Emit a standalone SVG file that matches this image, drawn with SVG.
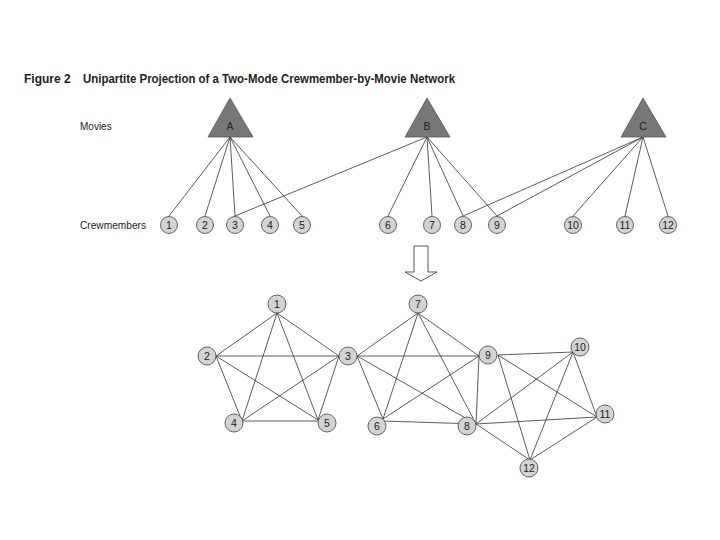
<svg xmlns="http://www.w3.org/2000/svg" width="720" height="540" viewBox="0 0 720 540">
<style>
text{font-family:"Liberation Sans",Arial,sans-serif;fill:#222}
.title{font-size:12px;font-weight:bold}
.lab{font-size:10px}
.nl{font-size:10.5px;text-anchor:middle;dominant-baseline:central}
.tri{fill:#777;stroke:#555;stroke-width:0.8}
.c{fill:#d3d3d3;stroke:#555;stroke-width:0.9}
.e line{stroke:#333;stroke-width:0.8}
</style>
<rect width="720" height="540" fill="#fff"/>
<text class="title" x="24" y="83">Figure 2</text>
<text class="title" x="83" y="83" textLength="372" lengthAdjust="spacingAndGlyphs">Unipartite Projection of a Two-Mode Crewmember-by-Movie Network</text>
<text class="lab" x="80" y="130">Movies</text>
<text class="lab" x="80" y="229" textLength="66" lengthAdjust="spacingAndGlyphs">Crewmembers</text>

<g id="connectors" class="e">
<line x1="230" y1="137" x2="169" y2="216"/>
<line x1="230" y1="137" x2="205" y2="216"/>
<line x1="230" y1="137" x2="235" y2="216"/>
<line x1="230" y1="137" x2="270" y2="216"/>
<line x1="230" y1="137" x2="302" y2="216"/>
<line x1="427" y1="137" x2="235" y2="216"/>
<line x1="427" y1="137" x2="388" y2="216"/>
<line x1="427" y1="137" x2="432" y2="216"/>
<line x1="427" y1="137" x2="463" y2="216"/>
<line x1="427" y1="137" x2="497" y2="216"/>
<line x1="643" y1="137" x2="463" y2="216"/>
<line x1="643" y1="137" x2="497" y2="216"/>
<line x1="643" y1="137" x2="573" y2="216"/>
<line x1="643" y1="137" x2="625" y2="216"/>
<line x1="643" y1="137" x2="668" y2="216"/>

<line x1="277" y1="313" x2="216" y2="356"/>
<line x1="277" y1="313" x2="339" y2="356"/>
<line x1="277" y1="313" x2="242" y2="421"/>
<line x1="277" y1="313" x2="318" y2="420"/>
<line x1="216" y1="356" x2="339" y2="356"/>
<line x1="216" y1="356" x2="242" y2="421"/>
<line x1="216" y1="356" x2="318" y2="420"/>
<line x1="339" y1="356" x2="242" y2="421"/>
<line x1="339" y1="356" x2="318" y2="420"/>
<line x1="242" y1="421" x2="318" y2="421"/>

<line x1="418" y1="313" x2="357" y2="356"/>
<line x1="418" y1="313" x2="383" y2="419"/>
<line x1="418" y1="313" x2="476" y2="424"/>
<line x1="418" y1="313" x2="479" y2="356"/>
<line x1="357" y1="356" x2="479" y2="356"/>
<line x1="357" y1="356" x2="383" y2="419"/>
<line x1="357" y1="356" x2="476" y2="424"/>
<line x1="383" y1="419" x2="479" y2="356"/>
<line x1="383" y1="421" x2="476" y2="424"/>
<line x1="479" y1="356" x2="476" y2="424"/>

<line x1="498" y1="355" x2="573" y2="352"/>
<line x1="498" y1="355" x2="597" y2="417"/>
<line x1="498" y1="355" x2="530" y2="460"/>
<line x1="476" y1="424" x2="573" y2="352"/>
<line x1="476" y1="424" x2="597" y2="417"/>
<line x1="476" y1="424" x2="530" y2="460"/>
<line x1="573" y1="352" x2="597" y2="417"/>
<line x1="573" y1="352" x2="530" y2="460"/>
<line x1="597" y1="417" x2="530" y2="460"/>
</g>

<g id="movieA"><polygon class="tri" points="230,98 208,137 253,137"/><text class="nl" x="230" y="126">A</text></g>
<g id="movieB"><polygon class="tri" points="427,98 405,137 450,137"/><text class="nl" x="427" y="126">B</text></g>
<g id="movieC"><polygon class="tri" points="643,98 621,137 666,137"/><text class="nl" x="643" y="126">C</text></g>

<g id="crew1"><circle class="c" cx="169" cy="225" r="8.5"/><text class="nl" x="169" y="225">1</text></g>
<g id="crew2"><circle class="c" cx="205" cy="225" r="8.5"/><text class="nl" x="205" y="225">2</text></g>
<g id="crew3"><circle class="c" cx="235" cy="225" r="8.5"/><text class="nl" x="235" y="225">3</text></g>
<g id="crew4"><circle class="c" cx="270" cy="225" r="8.5"/><text class="nl" x="270" y="225">4</text></g>
<g id="crew5"><circle class="c" cx="302" cy="225" r="8.5"/><text class="nl" x="302" y="225">5</text></g>
<g id="crew6"><circle class="c" cx="388" cy="225" r="8.5"/><text class="nl" x="388" y="225">6</text></g>
<g id="crew7"><circle class="c" cx="432" cy="225" r="8.5"/><text class="nl" x="432" y="225">7</text></g>
<g id="crew8"><circle class="c" cx="463" cy="225" r="8.5"/><text class="nl" x="463" y="225">8</text></g>
<g id="crew9"><circle class="c" cx="497" cy="225" r="8.5"/><text class="nl" x="497" y="225">9</text></g>
<g id="crew10"><circle class="c" cx="573" cy="225" r="8.5"/><text class="nl" x="573" y="225">10</text></g>
<g id="crew11"><circle class="c" cx="625" cy="225" r="8.5"/><text class="nl" x="625" y="225">11</text></g>
<g id="crew12"><circle class="c" cx="668" cy="225" r="8.5"/><text class="nl" x="668" y="225">12</text></g>

<g id="arrow"><polygon points="414,246 428,246 428,272 437,272 421,281 405,272 414,272" fill="#fff" stroke="#444" stroke-width="0.9"/></g>

<g id="n1"><circle class="c" cx="277" cy="304" r="9"/><text class="nl" x="277" y="304">1</text></g>
<g id="n2"><circle class="c" cx="207" cy="356" r="9"/><text class="nl" x="207" y="356">2</text></g>
<g id="n3"><circle class="c" cx="348" cy="356" r="9"/><text class="nl" x="348" y="356">3</text></g>
<g id="n4"><circle class="c" cx="234" cy="423" r="9"/><text class="nl" x="234" y="423">4</text></g>
<g id="n5"><circle class="c" cx="327" cy="423" r="9"/><text class="nl" x="327" y="423">5</text></g>
<g id="n6"><circle class="c" cx="377" cy="426" r="9"/><text class="nl" x="377" y="426">6</text></g>
<g id="n7"><circle class="c" cx="418" cy="304" r="9"/><text class="nl" x="418" y="304">7</text></g>
<g id="n8"><circle class="c" cx="467" cy="426" r="9"/><text class="nl" x="467" y="426">8</text></g>
<g id="n9"><circle class="c" cx="488" cy="355" r="9"/><text class="nl" x="488" y="355">9</text></g>
<g id="n10"><circle class="c" cx="580" cy="347" r="9"/><text class="nl" x="580" y="347">10</text></g>
<g id="n11"><circle class="c" cx="605" cy="414" r="9"/><text class="nl" x="605" y="414">11</text></g>
<g id="n12"><circle class="c" cx="529" cy="468" r="9"/><text class="nl" x="529" y="468">12</text></g>
</svg>
